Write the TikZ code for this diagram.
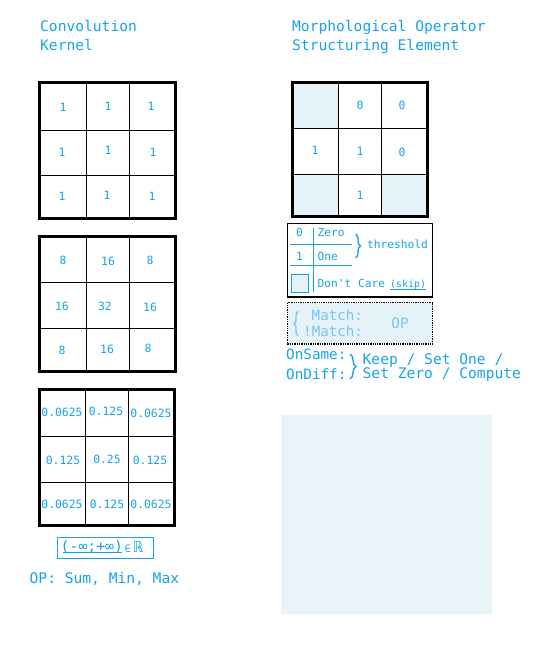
\documentclass[tikz,border=0pt]{standalone}
\usepackage{fontspec}
\newfontfamily\mono{DejaVu Sans Mono}
\usetikzlibrary{decorations.pathreplacing}
\definecolor{tc}{RGB}{23,162,232}
\definecolor{tclight}{RGB}{120,198,240}
\definecolor{hatch}{RGB}{229,243,249}
\definecolor{hatchbig}{RGB}{233,244,249}
\begin{document}
\begin{tikzpicture}[x=1pt,y=-1pt,
  big/.style={text=tc,font=\mono\fontsize{14.6}{15}\selectfont,inner sep=0pt},
  cell/.style={text=tc,font=\mono\fontsize{11.4}{12}\selectfont,inner sep=0pt},
  small/.style={text=tc,font=\mono\fontsize{11.2}{12}\selectfont,inner sep=0pt},
  faint/.style={text=tclight,font=\mono\fontsize{14.2}{15}\selectfont,inner sep=0pt},
  outer/.style={draw=black,line width=3pt},
  inner/.style={draw=black,line width=1pt},
  cyanline/.style={draw=tc,line width=1pt},
  bracer/.style={draw=tc,line width=1.4pt,decorate,decoration={brace,amplitude=#1}},
]
\useasboundingbox (0,0) rectangle (560,654);

% ---- titles
\node[big,anchor=base west] (t1a) at (40,31.5) {Convolution};
\node[big,anchor=base west] (t1b) at (40,50) {Kernel};
\node[big,anchor=base west] (t2a) at (292,31.5) {Morphological Operator};
\node[big,anchor=base west] (t2b) at (292,50.5) {Structuring Element};

% ---- grid 1
\draw[inner] (86,82) -- (86,218) (129,82) -- (129,218) (39,130) -- (175,130) (39,175) -- (175,175);
\draw[outer] (39,82) rectangle (175,218);
\node[cell] (g1a) at (63,107) {1};
\node[cell] (g1b) at (108,106) {1};
\node[cell] (g1c) at (151,106) {1};
\node[cell] (g1d) at (62,152) {1};
\node[cell] (g1e) at (108,150) {1};
\node[cell] (g1f) at (153,152) {1};
\node[cell] (g1g) at (62,196) {1};
\node[cell] (g1h) at (107,195) {1};
\node[cell] (g1i) at (152,196) {1};

% ---- grid 2
\draw[inner] (86,236) -- (86,371) (129,236) -- (129,371) (39,282) -- (175,282) (39,328) -- (175,328);
\draw[outer] (39,236) rectangle (175,371);
\node[cell] (g2a) at (63,260) {8};
\node[cell] (g2b) at (108,261) {16};
\node[cell] (g2c) at (150,260) {8};
\node[cell] (g2d) at (62,306) {16};
\node[cell] (g2e) at (105,306) {32};
\node[cell] (g2f) at (150,307) {16};
\node[cell] (g2g) at (62,350) {8};
\node[cell] (g2h) at (107,349) {16};
\node[cell] (g2i) at (148,348) {8};

% ---- grid 3
\draw[inner] (85.5,389) -- (85.5,525) (128.5,389) -- (128.5,525) (39,436) -- (175,436) (39,482.5) -- (175,482.5);
\draw[outer] (39,389) rectangle (174.5,525);
\node[cell] (g3a) at (62,412) {0.0625};
\node[cell] (g3b) at (106,411.5) {0.125};
\node[cell] (g3c) at (151,413) {0.0625};
\node[cell] (g3d) at (63,460) {0.125};
\node[cell] (g3e) at (107,459) {0.25};
\node[cell] (g3f) at (150,460) {0.125};
\node[cell] (g3g) at (62,504) {0.0625};
\node[cell] (g3h) at (107,504) {0.125};
\node[cell] (g3i) at (151,504) {0.0625};

% ---- range box
\draw[cyanline] (57,537.5) rectangle (153,558.5);
\node[big,anchor=base west,font=\mono\fontsize{14.8}{15}\selectfont] (rng) at (60.5,551) {(-∞;+∞)};
\draw[tc,line width=0.9pt] (63,552.5) -- (122,552.5);
\node[small,anchor=base west,font=\mono\fontsize{10.5}{11}\selectfont] (elem) at (124.5,552) {∈};
\node[big,anchor=base west,font=\mono\fontsize{15}{15}\selectfont] (reals) at (134,552) {ℝ};
\node[big,anchor=base west] (ops) at (29.5,583.5) {OP: Sum, Min, Max};

% ---- structuring element grid
\fill[hatch] (292,82) rectangle (338,128) (292,174) rectangle (338,216) (382,174) rectangle (427,216);
\draw[inner] (338.3,82) -- (338.3,216) (381.7,82) -- (381.7,216) (292,128.3) -- (427,128.3) (292,174.3) -- (427,174.3);
\draw[outer] (292,82) rectangle (427,216);
\node[cell] (s1) at (360,105) {0};
\node[cell] (s2) at (402,105) {0};
\node[cell] (s3) at (315,150) {1};
\node[cell] (s4) at (360,151) {1};
\node[cell] (s5) at (402,152) {0};
\node[cell] (s6) at (360,195) {1};

% ---- legend box
\draw[black,line width=1.3pt] (287.5,223.5) rectangle (432.5,297);
\draw[cyanline] (313.3,228) -- (313.3,292);
\draw[cyanline] (290,244.3) -- (351.7,244.3) (290,265.7) -- (351.7,265.7);
\node[small,anchor=base] (l0) at (299.5,236) {0};
\node[small,anchor=base west] (lzero) at (317.5,236) {Zero};
\node[small,anchor=base] (l1) at (299.5,260) {1};
\node[small,anchor=base west] (lone) at (317.5,260) {One};
\draw[bracer=5pt] (355.5,234) -- (355.5,258);
\node[small,anchor=base west] (thr) at (367,248.3) {threshold};
\draw[cyanline,fill=hatch] (291,274.5) rectangle (308,292);
\node[small,anchor=base west] (dc) at (317.5,287) {Don't Care};
\node[small,anchor=base west,font=\mono\fontsize{9.9}{10}\selectfont] (skip) at (390,287) {(skip)};
\draw[tc,line width=0.9pt] (390,289.3) -- (425.7,289.3);

% ---- dotted box
\draw[black,line width=1.3pt,densely dotted,fill=hatch] (287.5,302.5) rectangle (432.5,344);
\draw[draw=tclight,line width=1.4pt,decorate,decoration={brace,amplitude=4pt}] (298,335.5) -- (298,311.5);
\node[faint,anchor=base west] (m1) at (311.5,320) {Match:};
\node[faint,anchor=base west] (m2) at (303,336.5) {!Match:};
\node[faint,anchor=base] (mop) at (400,328.5) {OP};

% ---- OnSame / OnDiff
\node[big,anchor=base west,font=\mono\fontsize{14.3}{15}\selectfont] (os) at (286,359.5) {OnSame:};
\node[big,anchor=base west,font=\mono\fontsize{14.3}{15}\selectfont] (od) at (286,379) {OnDiff:};
\draw[bracer=6pt] (350,354) -- (350,379);
\node[big,anchor=base west] (k1) at (362.5,364) {Keep / Set One /};
\node[big,anchor=base west] (k2) at (362.5,378.3) {Set Zero / Compute};

% ---- empty hatched area
\fill[hatchbig] (281,415) rectangle (492,614);
\end{tikzpicture}
\end{document}
